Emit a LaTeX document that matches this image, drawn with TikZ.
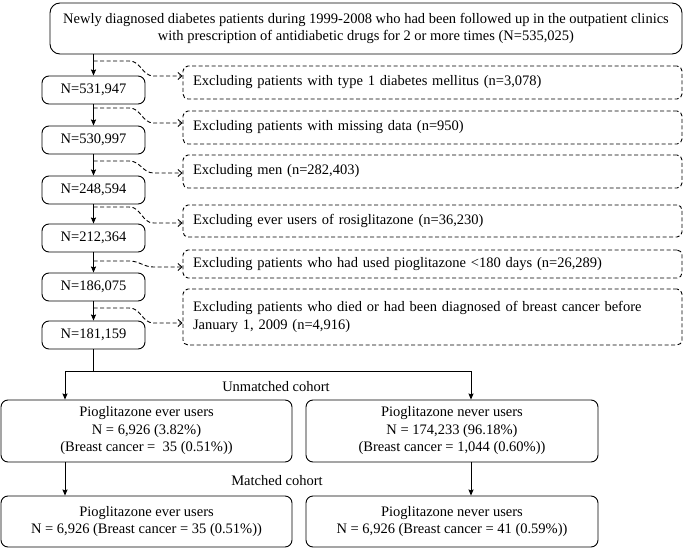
\documentclass[tikz,border=0pt]{standalone}
\usepackage{fontspec}
\setmainfont{Liberation Serif}
\usetikzlibrary{arrows.meta}
\begin{document}
\begin{tikzpicture}[x=1pt,y=-1pt,
  font=\fontsize{14.5}{17.5}\selectfont,
  every path/.style={line width=0.9pt},
  sbox/.style={draw, rounded corners=7pt, inner sep=0pt, align=center},
  nbox/.style={sbox, minimum width=103pt, minimum height=28pt},
  dbox/.style={draw, dash pattern=on 4pt off 2.5pt, rounded corners=5pt, inner xsep=10pt, inner ysep=0pt,
    text width=479pt, minimum width=499pt, align=left},
  arr/.style={-{Stealth[length=6pt,width=5pt,inset=0.8pt]}},
  darr/.style={dash pattern=on 4pt off 2.5pt, -{Straight Barb[length=4pt,width=7pt]}}]
\useasboundingbox (0,0) rectangle (685,548);

% top box
\node[sbox, rounded corners=10pt, minimum width=632pt, minimum height=51pt] (top) at (366,28.5)
  {Newly diagnosed diabetes patients during 1999-2008 who had been followed up in the outpatient clinics\\
   with prescription of antidiabetic drugs for 2 or more times (N=535,025)};

% N boxes
\node[nbox] (n1) at (93.5,90) {N=531,947};
\node[nbox] (n2) at (93.5,140) {N=530,997};
\node[nbox] (n3) at (93.5,190) {N=248,594};
\node[nbox] (n4) at (93.5,238) {N=212,364};
\node[nbox] (n5) at (93.5,287) {N=186,075};
\node[nbox] (n6) at (93.5,335) {N=181,159};

% dashed boxes
\node[dbox, minimum height=33pt] (d1) at (432.5,82.5) {Excluding patients with type 1 diabetes mellitus (n=3,078)};
\node[dbox, minimum height=33pt] (d2) at (432.5,127.5) {Excluding patients with missing data (n=950)};
\node[dbox, minimum height=33pt] (d3) at (432.5,171.5) {Excluding men (n=282,403)};
\node[dbox, minimum height=32pt] (d4) at (432.5,221) {Excluding ever users of rosiglitazone (n=36,230)};
\node[dbox, minimum height=28pt] (d5) at (432.5,264) {Excluding patients who had used pioglitazone <180 days (n=26,289)};
\node[dbox, minimum height=56pt] (d6) at (432.5,317) {Excluding patients who died or had been diagnosed of breast cancer before\\January 1, 2009 (n=4,916)};

% main vertical arrows
\draw[arr] (top.south -| n1.north) -- (n1.north);
\draw[arr] (n1) -- (n2);
\draw[arr] (n2) -- (n3);
\draw[arr] (n3) -- (n4);
\draw[arr] (n4) -- (n5);
\draw[arr] (n5) -- (n6);

% exclusion connectors
\coordinate (s1) at (93.5,61);  \coordinate (e1) at (d1.west |- 0,76);
\coordinate (s2) at (93.5,108); \coordinate (e2) at (d2.west |- 0,123);
\coordinate (s3) at (93.5,161); \coordinate (e3) at (d3.west |- 0,173);
\coordinate (s4) at (93.5,207); \coordinate (e4) at (d4.west |- 0,223);
\coordinate (s5) at (93.5,261); \coordinate (e5) at (d5.west |- 0,267);
\coordinate (s6) at (93.5,308); \coordinate (e6) at (d6.west |- 0,323);
\foreach \i in {1,...,6}{
  \draw[darr] (s\i) -- ++(36,0) to[out=0,in=180] ([xshift=-29pt]e\i) -- (e\i);
}

% split
\coordinate (jm) at (93.5,371);
\coordinate (jl) at (65,371);
\coordinate (jr) at (471,371);
\draw (n6.south) -- (jm);
\draw (jl) -- (jr);

\node[sbox, minimum width=291pt, minimum height=62pt] (ev) at (146.5,431)
  {Pioglitazone ever users\\N = 6,926 (3.82\%)\\(Breast cancer = \ 35 (0.51\%))};
\node[sbox, minimum width=292pt, minimum height=62pt] (nv) at (452,431)
  {Pioglitazone never users\\N = 174,233 (96.18\%)\\(Breast cancer = 1,044 (0.60\%))};
\node[sbox, minimum width=291pt, minimum height=51pt] (ev2) at (146.5,521.5)
  {Pioglitazone ever users\\N = 6,926 (Breast cancer = 35 (0.51\%))};
\node[sbox, minimum width=292pt, minimum height=51pt] (nv2) at (452,521.5)
  {Pioglitazone never users\\N = 6,926 (Breast cancer = 41 (0.59\%))};

\draw[arr] (jl) -- (jl |- ev.north);
\draw[arr] (jr) -- (jr |- nv.north);
\draw[arr] (ev.south -| jl) -- (ev2.north -| jl);
\draw[arr] (nv.south -| jr) -- (nv2.north -| jr);

\node (lab1) at (276,387) {Unmatched cohort};
\node (lab2) at (277,481) {Matched cohort};
\end{tikzpicture}
\end{document}
